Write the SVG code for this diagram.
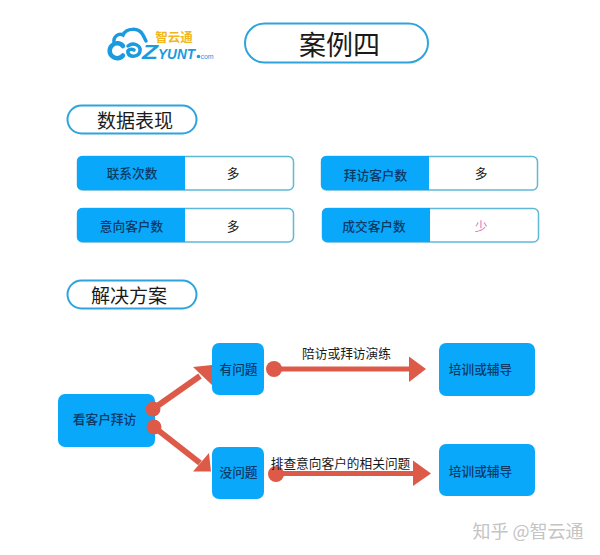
<svg xmlns="http://www.w3.org/2000/svg" width="600" height="555" viewBox="0 0 600 555">
<style>
text{font-family:"Noto Sans CJK SC","Noto Sans",sans-serif;text-anchor:middle;dominant-baseline:central;fill:#1a1a1a}
.pill{fill:#fff;stroke:#2fa4dc;stroke-width:2}
.blue{fill:#0aa8fb}
.frame{fill:#fff;stroke:#5fb8d8;stroke-width:1.5}
.s14{font-size:12.7px}
.nav{fill:#0b3a66;font-weight:500}
.red{fill:#dd5a48}
.redl{stroke:#dd5a48;fill:none}
.logo{fill:none;stroke:#1a9be0;stroke-linecap:round}
.lt{font-family:"Liberation Sans",sans-serif;font-weight:700;font-style:italic;text-anchor:start;dominant-baseline:alphabetic;fill:#1a9be0}
</style>
<rect width="600" height="555" fill="#fff"/>
<g id="logo">
<path class="logo" stroke-width="4.500" d="M123 46a7.500 7.500 0 1 0 0 9.500"/>
<path class="logo" stroke-width="3.500" d="M114 42.500C113 36 119 33 123 35C126 28 139 27 143 35C144 37 145 39 146 41"/>
<path class="logo" stroke-width="3.500" d="M128 46C133 42 141 45 140 51C139 57 130 58 128 53C127 50 131 48 134 50"/>
<text class="lt" x="142" y="58.500" font-size="20" textLength="16" lengthAdjust="spacingAndGlyphs">Z</text>
<text class="lt" x="158" y="58.500" font-size="15" textLength="37" lengthAdjust="spacingAndGlyphs">YUNT</text>
<circle cx="198.500" cy="56.500" r="1.800" fill="#1a9be0"/>
<text x="207" y="56.500" style="font-family:'Liberation Sans',sans-serif;font-size:7px;fill:#1a9be0">com</text>
<text x="174" y="36.500" style="font-size:12.500px;font-weight:700;fill:#f2b61d">智云通</text>
</g>
<g id="title"><rect class="pill" x="245" y="23.500" width="183" height="39" rx="19.500"/><text x="339.500" y="43" style="font-size:27px">案例四</text></g>
<g id="section-data"><rect class="pill" x="67.500" y="105.500" width="129" height="28" rx="14"/><text x="135" y="119.500" style="font-size:19px">数据表现</text></g>
<g id="row-1"><rect class="frame" x="77.500" y="156.500" width="216" height="33.500" rx="5"/><path class="blue" d="M185 156H82a5 5 0 0 0-5 5v24a5 5 0 0 0 5 5H185z"/><text class="s14 nav" x="132" y="172.500">联系次数</text><text class="s14" x="233" y="172.500">多</text></g>
<g id="row-2"><rect class="frame" x="77.500" y="208.500" width="216" height="33.500" rx="5"/><path class="blue" d="M185 208H82a5 5 0 0 0-5 5v24a5 5 0 0 0 5 5H185z"/><text class="s14 nav" x="131.500" y="225.500">意向客户数</text><text class="s14" x="233" y="225.500">多</text></g>
<g id="row-3"><rect class="frame" x="321.500" y="156.500" width="216" height="33.500" rx="5"/><path class="blue" d="M429 156H326a5 5 0 0 0-5 5v24a5 5 0 0 0 5 5H429z"/><text class="s14 nav" x="375.500" y="174.500">拜访客户数</text><text class="s14" x="481" y="172.500">多</text></g>
<g id="row-4"><rect class="frame" x="322.500" y="208.500" width="216" height="33.500" rx="5"/><path class="blue" d="M430 208H327a5 5 0 0 0-5 5v24a5 5 0 0 0 5 5H430z"/><text class="s14 nav" x="374" y="225.500">成交客户数</text><text class="s14" x="481" y="225" style="fill:#dd6fc0">少</text></g>
<g id="section-solution"><rect class="pill" x="67.500" y="280.500" width="129" height="28" rx="14"/><text x="129" y="294" style="font-size:19px">解决方案</text></g>
<g id="node-visit"><rect class="blue" x="58" y="394" width="97" height="53" rx="7"/><text class="s14 nav" x="104.500" y="418">看客户拜访</text></g>
<g id="node-yes"><rect class="blue" x="212" y="343" width="52" height="52" rx="7"/><text class="s14 nav" x="238.500" y="368.500">有问题</text></g>
<g id="node-no"><rect class="blue" x="212" y="447" width="52" height="52" rx="7"/><text class="s14 nav" x="238.500" y="471">没问题</text></g>
<g id="node-coach-1"><rect class="blue" x="439" y="343" width="96" height="53" rx="7"/><text class="s14 nav" x="480.500" y="368">培训或辅导</text></g>
<g id="node-coach-2"><rect class="blue" x="439" y="444" width="96" height="52" rx="7"/><text class="s14 nav" x="480.500" y="470">培训或辅导</text></g>
<g id="connectors">
<path class="redl" stroke-width="6" d="M153 409L200 376"/><path class="red" d="M193 367L212 365L212 385z"/><circle class="red" cx="153" cy="409" r="7.500"/>
<path class="redl" stroke-width="6" d="M154 427L200 463"/><path class="red" d="M193 471.500L211 471.500L209 453z"/><circle class="red" cx="154" cy="427" r="7.500"/>
<path class="redl" stroke-width="5" d="M274 369H410"/><path class="red" d="M409 356.500L426 369L409 382z"/><circle class="red" cx="274" cy="369" r="8"/>
<path class="redl" stroke-width="5" d="M276 473.500H414"/><path class="red" d="M413 460.500L431 473.500L413 486z"/><circle class="red" cx="276" cy="474" r="8"/>
</g>
<text class="s14" x="346.500" y="352.500">陪访或拜访演练</text>
<text class="s14" x="340.500" y="462">排查意向客户的相关问题</text>
<text x="528" y="530" style="font-size:18px;fill:#c4c4c4">知乎 @智云通</text>
</svg>
